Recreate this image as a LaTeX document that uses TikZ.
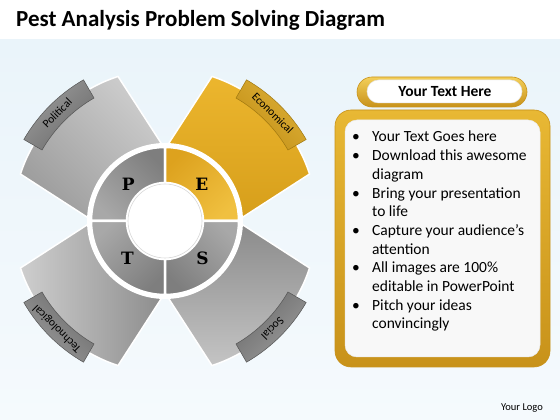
\documentclass[tikz,border=0pt]{standalone}
\usepackage{fontspec}
\setmainfont{Carlito}
\newfontfamily\letterfont{DejaVu Serif}
\usetikzlibrary{calc}
\definecolor{bgtop}{HTML}{EAF4FA}
\definecolor{bgbot}{HTML}{F5FAFD}
\definecolor{pgl}{HTML}{CDCDCD}
\definecolor{pgd}{HTML}{9C9C9C}
\definecolor{eol}{HTML}{ECB62E}
\definecolor{eod}{HTML}{D69E1A}
\definecolor{ptl}{HTML}{CECECE}
\definecolor{ptd}{HTML}{8C8C8C}
\definecolor{psl}{HTML}{8A8A8A}
\definecolor{psd}{HTML}{C4C4C4}
\definecolor{rgl}{HTML}{A8A8A8}
\definecolor{rgd}{HTML}{7E7E7E}
\definecolor{rel}{HTML}{F0C040}
\definecolor{red}{HTML}{DDA21E}
\definecolor{tgl}{HTML}{9B9B9B}
\definecolor{tgd}{HTML}{6C6C6C}
\definecolor{tgo}{HTML}{555555}
\definecolor{tel}{HTML}{DDB038}
\definecolor{ted}{HTML}{C39016}
\definecolor{teo}{HTML}{A07810}
\definecolor{boxl}{HTML}{E8B834}
\definecolor{boxd}{HTML}{C8921A}
\definecolor{boxe}{HTML}{F3CF5A}
\definecolor{inner}{HTML}{F8F8F8}
\tikzset{
  petal/.style={draw=white, line width=1.5pt},
  seg/.style={draw=white, line width=2.5pt},
  tabshape/.style={line width=0.5pt},
  tablabel/.style={font=\fontsize{11.5}{13}\selectfont, text=black, inner sep=0pt},
  letter/.style={font=\letterfont\bfseries\fontsize{17}{20}\selectfont, text=black, inner sep=0pt},
  bodytext/.style={font=\fontsize{15.5}{18}\selectfont, text=black, inner sep=0pt, anchor=base west},
}
\begin{document}
\begin{tikzpicture}[x=1pt,y=1pt]
\useasboundingbox (0,0) rectangle (560,420);
% background
\fill[white] (0,0) rectangle (560,420);
\shade[top color=bgtop, bottom color=bgbot] (0,0) rectangle (560,380);
% title
\node[anchor=base west, inner sep=0pt, font=\bfseries\fontsize{23}{27}\selectfont] (title) at (16,393) {Pest Analysis Problem Solving Diagram};

\coordinate (c) at (165,199);
% petals
\foreach \t/\lc/\dc/\sh in {135/pgl/pgd/-45, 45/eol/eod/0, 225/ptl/ptd/90, 315/psl/psd/0}{
  \path[petal, top color=\lc, bottom color=\dc, shading angle=\sh]
   (c) -- ($(c)+(\t-43:76)$) -- ($(c)+(\t-27:152)$)
   arc[start angle=\t-27, end angle=\t+27, radius=152]
   -- ($(c)+(\t+43:76)$) -- cycle;
}
% tabs
\foreach \t/\lc/\dc/\oc/\txt/\nm in {135/tgl/tgd/tgo/Political/pol, 45/tel/ted/teo/Economical/eco, 225/tgl/tgd/tgo/Technological/tec, 315/tgl/tgd/tgo/Social/soc}{
  \path[tabshape, draw=\oc, top color=\lc, bottom color=\dc, shading angle=\t-90]
   ($(c)+(\t-15:142)$) arc[start angle=\t-15, end angle=\t+15, radius=142]
   -- ($(c)+(\t+15:163)$) arc[start angle=\t+15, end angle=\t-15, radius=163] -- cycle;
  \node[tablabel, rotate=\t-90] (lab\nm) at ($(c)+(\t:152.5)$) {\txt};
}
% ring segments
\foreach \a/\lc/\dc/\sh in {90/rgl/rgd/-45, 0/rel/red/45, 180/rgl/rgd/-135, 270/rgl/rgd/135}{
  \path[seg, top color=\dc, bottom color=\lc, shading angle=\sh]
   ($(c)+(\a:38)$) arc[start angle=\a, end angle=\a+90, radius=38]
   -- ($(c)+(\a+90:74)$) arc[start angle=\a+90, end angle=\a, radius=74] -- cycle;
}
\draw[white, line width=4pt] (c) circle[radius=76];
\path[fill=white, draw=black!15, line width=0.6pt] (c) circle[radius=37];
% letters
\node[letter] (P) at ($(c)+(135:52)$) {P};
\node[letter] (E) at ($(c)+(45:52)$) {E};
\node[letter] (T) at ($(c)+(225:53)$) {T};
\node[letter] (S) at ($(c)+(315:53)$) {S};

% header pill
\path[top color=boxe, bottom color=boxd, draw=boxd, line width=0.6pt, rounded corners=15pt] (357,313) rectangle (527,343);
\path[fill=white, draw=black!10, line width=0.5pt, rounded corners=11.5pt] (367,317) rectangle (522,340);
\node[font=\bfseries\fontsize{15.5}{18}\selectfont, inner sep=0pt] (head) at (445,328.5) {Your Text Here};
% main box
\path[top color=boxl, bottom color=boxd, draw=boxd, line width=0.6pt, rounded corners=16pt] (335,53) rectangle (550,310);
\path[fill=inner, draw=black!8, line width=0.5pt, rounded corners=12pt] (345,63) rectangle (540,300);
% bullet lines
\foreach \i/\b/\txt in {0/1/Your Text Goes here, 1/1/Download this awesome, 2/0/diagram, 3/1/Bring your presentation, 4/0/to life, 5/1/Capture your audience’s, 6/0/attention, 7/1/All images are 100\%, 8/0/editable in PowerPoint, 9/1/Pitch your ideas, 10/0/convincingly}{
  \node[bodytext] (line\i) at (372,278-18.7*\i) {\txt};
  \ifnum\b=1
    \node[bodytext, anchor=base] (bul\i) at (356,278-18.7*\i) {\textbullet};
  \fi
}
\node[font=\fontsize{10.5}{12}\selectfont, inner sep=0pt] (logo) at (522,12) {Your Logo};
\end{tikzpicture}
\end{document}
